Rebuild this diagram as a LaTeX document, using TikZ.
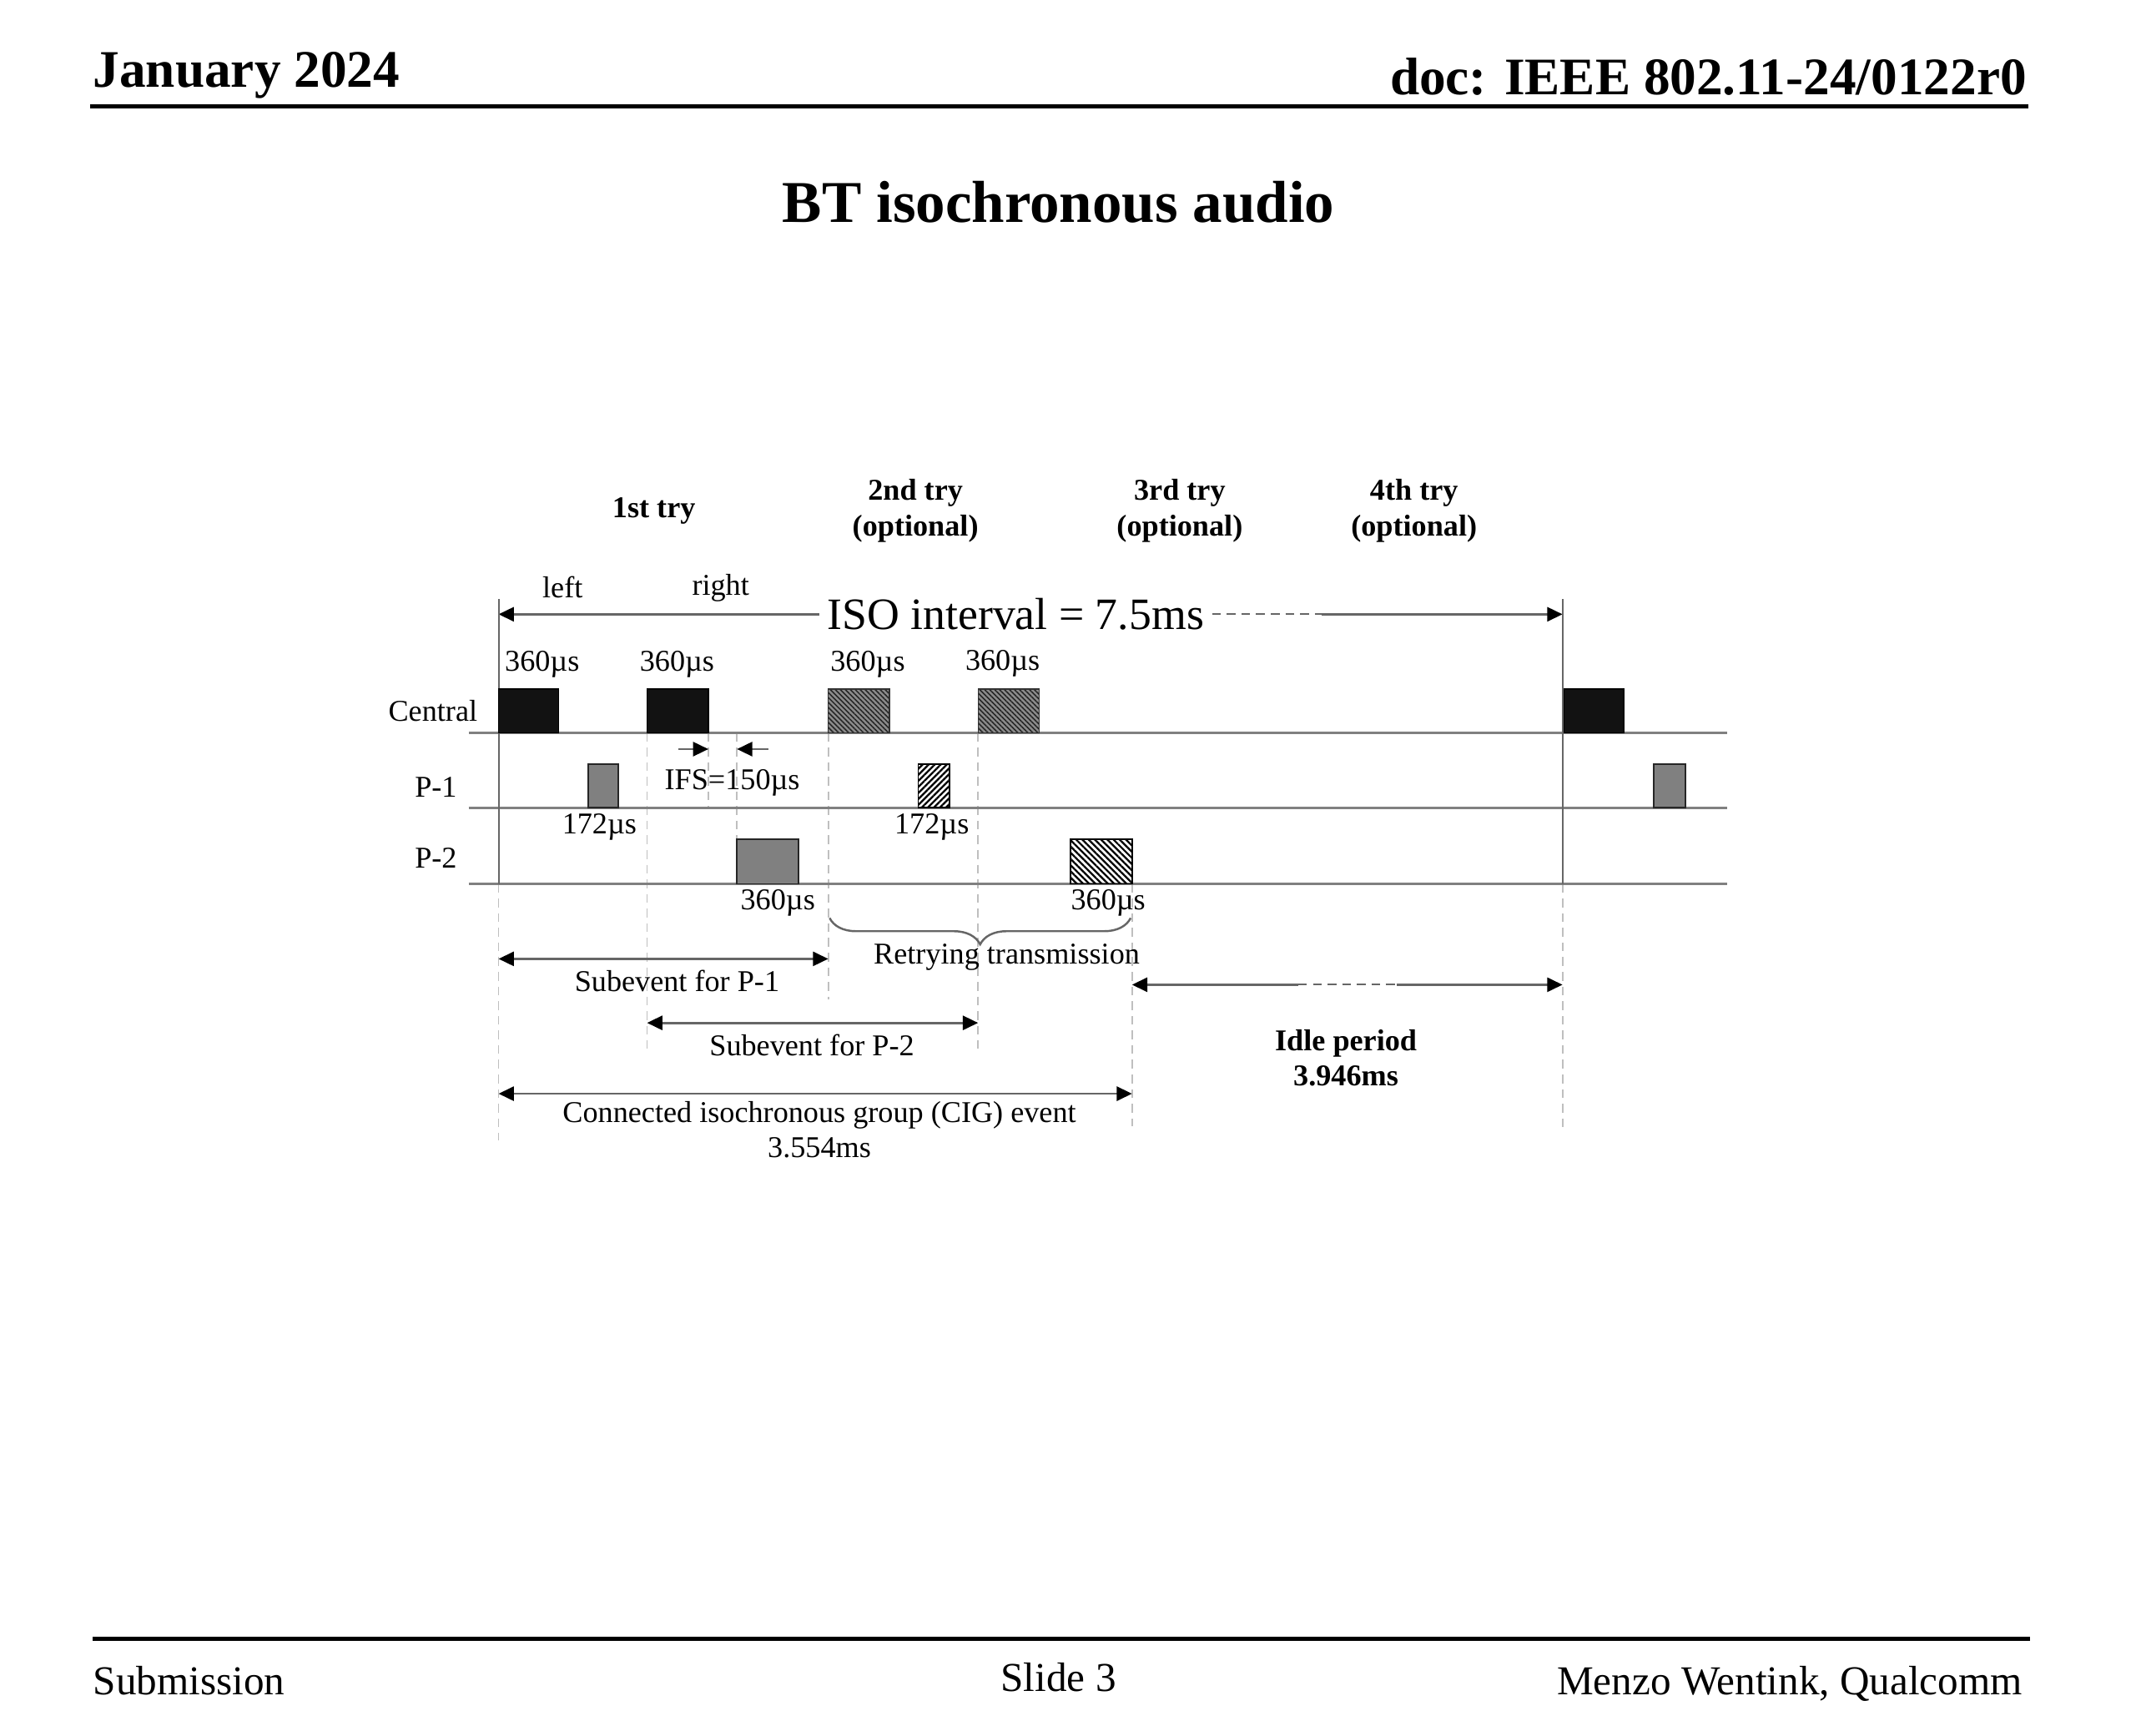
\documentclass[tikz,border=0pt]{standalone}
\usepackage{fontspec}
\setmainfont{Liberation Serif}
\usetikzlibrary{arrows.meta,patterns.meta,decorations.pathreplacing}

\begin{document}
\begin{tikzpicture}[x=0.16327cm,y=-0.16327cm,
    >={Triangle[length=5.2pt,width=4.8pt,color=black]},
    hdr/.style={font=\fontsize{18}{21}\selectfont\bfseries, inner sep=0pt},
    ttl/.style={font=\fontsize{20.2}{24}\selectfont\bfseries, inner sep=0pt},
    ftr/.style={font=\fontsize{14}{17}\selectfont, inner sep=0pt},
    txt/.style={font=\fontsize{10.3}{12}\selectfont, inner sep=1pt, align=center},
    trylbl/.style={font=\fontsize{10.3}{12}\selectfont\bfseries, inner sep=1pt, align=center},
    lane/.style={black!50, line width=0.8pt},
    bound/.style={black!60, line width=0.6pt},
    guide/.style={black!25, dash pattern=on 3pt off 2pt, line width=0.5pt},
    spanarrow/.style={black!60, line width=0.8pt},
    datapkt/.style={draw=black, fill=black!93, line width=0.4pt},
    ackpkt/.style={draw=black!85, fill=gray, line width=0.5pt},
    retrypkt/.style={draw=black!80, line width=0.4pt, preaction={fill=black!45},
        pattern={Lines[angle=-45,distance=1.2pt,line width=0.45pt]}, pattern color=black!85},
    ackhatch/.style={draw=black, line width=0.5pt,
        pattern={Lines[angle=45,distance=1.45pt,line width=0.65pt]}, pattern color=black},
    p2hatch/.style={draw=black, line width=0.5pt,
        pattern={Lines[angle=-45,distance=1.5pt,line width=0.65pt]}, pattern color=black}]
  \useasboundingbox (0,0) rectangle (156.8,127.4);
  % slide frame
  \node[hdr, anchor=base west] (date) at (6.8,6.37) {January 2024};
  \node[hdr, anchor=base east] (docno) at (148.8,6.94) {doc: IEEE 802.11-24/0122r0};
  \draw[line width=1.4pt] (6.6,7.8) -- (148.9,7.8);
  \node[ttl, anchor=base] (title) at (77.7,16.33) {BT isochronous audio};
  \draw[line width=1.4pt] (6.8,120.3) -- (149.0,120.3);
  \node[ftr, anchor=base west] (subm) at (6.8,124.44) {Submission};
  \node[ftr, anchor=base] (slide) at (77.7,124.17) {Slide 3};
  \node[ftr, anchor=base east] (author) at (148.5,124.44) {Menzo Wentink, Qualcomm};
  % tries
  \node[trylbl] (try1) at (48.0,37.5) {1st try};
  \node[trylbl] (try2) at (67.2,37.5) {2nd try\\(optional)};
  \node[trylbl] (try3) at (86.6,37.5) {3rd try\\(optional)};
  \node[trylbl] (try4) at (103.8,37.5) {4th try\\(optional)};
  \node[txt] (left) at (41.3,43.1) {left};
  \node[txt] (right) at (52.9,43.2) {right};
  % ISO interval
  \coordinate (isol) at (36.6,45.1);
  \coordinate (isom) at (97.0,45.1);
  \coordinate (isor) at (114.7,45.1);
  \node[font=\fontsize{15.3}{18}\selectfont, inner sep=2.6pt] (isotxt) at (74.55,45.1) {ISO interval = 7.5ms};
  \draw[spanarrow,->] (isotxt.west) -- (isol);
  \draw[spanarrow,dash pattern=on 3pt off 2pt,line width=0.6pt] (isotxt.east) -- (isom);
  \draw[spanarrow,->] (isom) -- (isor);
  % guides
  \draw[guide] (36.6,64.9) -- (36.6,83.7);
  \draw[guide] (47.5,53.8) -- (47.5,77.0);
  \draw[guide] (52.0,53.8) -- (52.0,59.3);
  \draw[guide] (54.1,53.8) -- (54.1,61.6);
  \draw[guide] (60.8,53.8) -- (60.8,73.4);
  \draw[guide] (71.8,53.8) -- (71.8,77.0);
  \draw[guide] (83.1,64.9) -- (83.1,82.7);
  \draw[guide] (114.7,64.9) -- (114.7,82.9);
  % lanes
  \draw[lane] (34.4,53.8) -- (126.8,53.8);
  \draw[lane] (34.4,59.3) -- (126.8,59.3);
  \draw[lane] (34.4,64.9) -- (126.8,64.9);
  \draw[bound] (36.6,44.0) -- (36.6,64.9);
  \draw[bound] (114.7,44.0) -- (114.7,64.9);
  \node[txt, anchor=east] (central) at (35.3,52.2) {Central};
  \node[txt] (p1) at (32.0,57.8) {P-1};
  \node[txt] (p2) at (32.0,63.0) {P-2};
  % Central packets
  \draw[datapkt] (36.6,50.6) rectangle (41.0,53.8);
  \draw[datapkt] (47.5,50.6) rectangle (52.0,53.8);
  \draw[retrypkt] (60.8,50.6) rectangle (65.3,53.8);
  \draw[retrypkt] (71.8,50.6) rectangle (76.3,53.8);
  \draw[datapkt] (114.8,50.6) rectangle (119.2,53.8);
  \node[txt] (c1) at (39.8,48.8) {360µs};
  \node[txt] (c2) at (49.7,48.8) {360µs};
  \node[txt] (c3) at (63.7,48.8) {360µs};
  \node[txt] (c4) at (73.6,48.7) {360µs};
  % P-1 packets
  \draw[ackpkt] (43.2,56.1) rectangle (45.4,59.3);
  \draw[ackhatch] (67.4,56.1) rectangle (69.7,59.3);
  \draw[ackpkt] (121.4,56.1) rectangle (123.7,59.3);
  \node[txt] (a1) at (44.0,60.7) {172µs};
  \node[txt] (a2) at (68.4,60.7) {172µs};
  % P-2 packets
  \draw[ackpkt] (54.1,61.6) rectangle (58.6,64.9);
  \draw[p2hatch] (78.6,61.6) rectangle (83.1,64.9);
  \node[txt] (b1) at (57.1,66.3) {360µs};
  \node[txt] (b2) at (81.35,66.3) {360µs};
  % IFS
  \coordinate (ifsa) at (49.8,55.0);
  \coordinate (ifsb) at (52.0,55.0);
  \coordinate (ifsc) at (56.4,55.0);
  \coordinate (ifsd) at (54.1,55.0);
  \draw[spanarrow,->] (ifsa) -- (ifsb);
  \draw[spanarrow,->] (ifsc) -- (ifsd);
  \node[txt] (ifs) at (53.75,57.45) {IFS=150µs};
  % retry brace
  \coordinate (brr) at (83.0,67.4);
  \coordinate (brl) at (60.9,67.4);
  \draw[black!60, line width=0.7pt, decorate, decoration={brace, amplitude=9pt}] (brr) -- (brl);
  \node[txt] (retry) at (73.9,70.3) {Retrying transmission};
  % subevents
  \coordinate (s1l) at (36.6,70.4);
  \coordinate (s1r) at (60.8,70.4);
  \draw[spanarrow,<->] (s1l) -- (s1r);
  \node[txt] (sub1) at (49.7,72.0) {Subevent for P-1};
  \coordinate (s2l) at (47.5,75.1);
  \coordinate (s2r) at (71.8,75.1);
  \draw[spanarrow,<->] (s2l) -- (s2r);
  \node[txt] (sub2) at (59.6,76.75) {Subevent for P-2};
  % CIG event
  \coordinate (cigl) at (36.6,80.3);
  \coordinate (cigr) at (83.1,80.3);
  \draw[spanarrow,<->] (cigl) -- (cigr);
  \node[txt] (cig) at (60.15,82.95) {Connected isochronous group (CIG) event\\3.554ms};
  % idle period
  \coordinate (idll) at (83.1,72.3);
  \coordinate (idla) at (95.3,72.3);
  \coordinate (idlb) at (102.5,72.3);
  \coordinate (idlr) at (114.7,72.3);
  \draw[spanarrow,<-] (idll) -- (idla);
  \draw[spanarrow,dash pattern=on 3pt off 2pt,line width=0.6pt] (idla) -- (idlb);
  \draw[spanarrow,->] (idlb) -- (idlr);
  \node[trylbl] (idle) at (98.8,77.7) {Idle period\\3.946ms};
\end{tikzpicture}
\end{document}
